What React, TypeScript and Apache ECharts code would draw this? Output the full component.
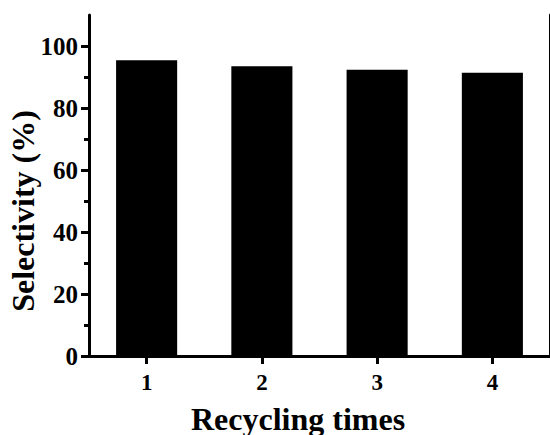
import React, { useEffect, useRef } from "react";
import * as echarts from "echarts";

const categories = ["1", "2", "3", "4"];
const selectivity = [95.4, 93.5, 92.3, 91.4];
const majorTicks = [0, 20, 40, 60, 80, 100];
const minorTicks = [10, 30, 50, 70, 90];
const xTitle = "Recycling times";
const yTitle = "Selectivity (%)";

const FONT = "Liberation Serif";

export default function App() {
  const ref = useRef<HTMLDivElement>(null);
  useEffect(() => {
    if (!ref.current) return;
    const chart = echarts.init(ref.current, null, { renderer: "svg" });
    const line = { show: true, lineStyle: { color: "#000", width: 3 } };
    chart.setOption({
      animation: false,
      backgroundColor: "#fff",
      grid: { left: 89, top: 15, width: 462, height: 341 },
      xAxis: [
        {
          type: "category",
          data: categories,
          position: "bottom",
          axisLine: line,
          axisTick: { show: true, alignWithLabel: true, length: 8, lineStyle: { color: "#000", width: 3 } },
          axisLabel: { color: "#000", fontFamily: FONT, fontWeight: "bold", fontSize: 23, margin: 15 },
          splitLine: { show: false },
        },
        {
          type: "category",
          data: categories,
          position: "top",
          axisLine: line,
          axisTick: { show: false },
          axisLabel: { show: false },
          splitLine: { show: false },
        },
      ],
      yAxis: [
        {
          type: "value",
          min: 0,
          max: 110,
          interval: 20,
          position: "left",
          axisLine: line,
          axisTick: { show: true, customValues: majorTicks, length: 8, lineStyle: { color: "#000", width: 3 } },
          axisLabel: { color: "#000", fontFamily: FONT, fontWeight: "bold", fontSize: 25, customValues: majorTicks, margin: 11 },
          splitLine: { show: false },
        },
        {
          type: "value",
          min: 0,
          max: 110,
          interval: 10,
          position: "left",
          axisLine: { show: false },
          axisTick: { show: true, customValues: minorTicks, length: 5, lineStyle: { color: "#000", width: 3 } },
          axisLabel: { show: false },
          splitLine: { show: false },
        },
        {
          type: "value",
          min: 0,
          max: 110,
          interval: 20,
          position: "right",
          axisLine: line,
          axisTick: { show: false },
          axisLabel: { show: false },
          splitLine: { show: false },
        },
      ],
      series: [
        {
          type: "bar",
          data: selectivity,
          barWidth: "53%",
          itemStyle: { color: "#000" },
        },
      ],
      graphic: [
        {
          type: "text",
          x: 298,
          y: 419,
          style: {
            text: xTitle,
            fill: "#000",
            font: `bold 32px ${FONT}`,
            textAlign: "center",
            textVerticalAlign: "middle",
          },
        },
        {
          type: "text",
          x: 23,
          y: 211,
          rotation: Math.PI / 2,
          style: {
            text: yTitle,
            fill: "#000",
            font: `bold 32px ${FONT}`,
            textAlign: "center",
            textVerticalAlign: "middle",
          },
        },
      ],
    });
    return () => chart.dispose();
  }, []);
  return (
    <div
      ref={ref}
      style={{ position: "fixed", left: 0, top: 0, width: 550, height: 435, background: "#fff" }}
    />
  );
}
